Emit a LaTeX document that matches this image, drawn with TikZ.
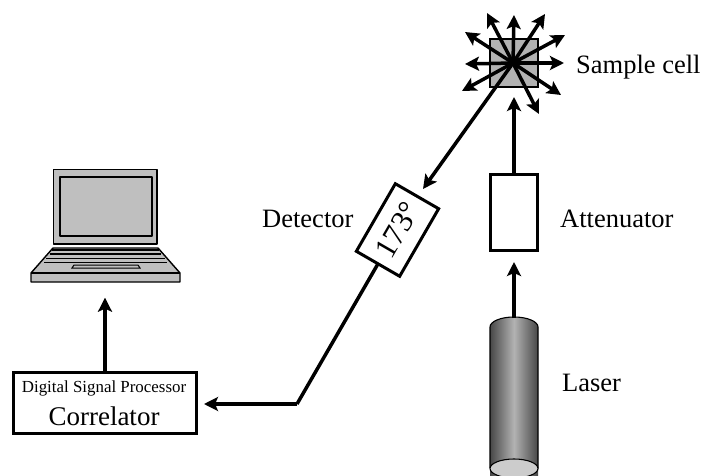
\documentclass[tikz,border=0pt]{standalone}
\usepackage{fontspec}
\setmainfont{Liberation Serif}
\usetikzlibrary{arrows.meta}
\definecolor{lapgray}{gray}{0.75}
\definecolor{cellgray}{gray}{0.7}
\tikzset{
  x=1pt,y=-1pt,
  beam/.style={line width=3.5pt,-{Stealth[length=14pt,width=14pt,inset=3pt]}},
  wire/.style={line width=3.5pt},
  boxed/.style={draw=black,line width=3pt,fill=white,inner sep=0pt,outer sep=0pt},
  lab/.style={font=\fontsize{26.5}{28}\selectfont,inner sep=0pt,anchor=base west},
  lapline/.style={draw=black,line width=1.4pt,line join=round}
}
\begin{document}
\begin{tikzpicture}
\useasboundingbox (0,0) rectangle (704,476);
% laser
\shade[left color=black!72,right color=black!72,middle color=black!30]
  (490,327) arc[start angle=180,end angle=360,x radius=24,y radius=10] -- (538,476) -- (490,476) -- cycle;
\draw[line width=1.1pt] (490,468) -- (490,327) arc[start angle=180,end angle=360,x radius=24,y radius=10] -- (538,468);
\draw[line width=1.1pt,fill=black!20] (514,468.5) ellipse[x radius=24,y radius=9.5];
\node[lab] (laser) at (562,391) {Laser};
% attenuator
\node[boxed,minimum width=47pt,minimum height=76pt] (att) at (514,212) {};
\node[lab] (attlab) at (560,227.5) {Attenuator};
\coordinate (lasertop) at (514,318);
\draw[beam] (lasertop) -- (514,262);
% sample cell
\node[draw=black,line width=2.6pt,fill=cellgray,minimum size=48pt,inner sep=0pt,outer sep=0pt] (cell) at (514,63) {};
\node[lab] (celllab) at (576,73.5) {Sample cell};
\coordinate (c) at (513,63);
\foreach \ex/\ey in {514/15,545/14,565/35,564/63,561/95,539/114,462/91,465/64,465/32,487/13}
  \draw[beam] (c) -- (\ex,\ey);
\draw[beam] (att.north) -- (514,97);
% detector
\coordinate (bend) at (297,404);
\coordinate (corrin) at (204,404);
\node[boxed,minimum width=78pt,minimum height=50pt,rotate=60] (det) at (397.5,230)
  {\fontsize{31}{33}\selectfont 173°};
\node[lab] (detlab) at (262,227.5) {Detector};
\draw[beam] (c) -- (423,189);
% correlator
\node[draw=black,line width=3.2pt,fill=white,minimum width=183pt,minimum height=61pt,inner sep=0pt,outer sep=0pt] (corr) at (105,403) {};
\node[font=\fontsize{16.9}{18}\selectfont,inner sep=0pt,anchor=base] (dsp) at (104,392) {Digital Signal Processor};
\node[font=\fontsize{27}{29}\selectfont,inner sep=0pt,anchor=base] (corrtxt) at (104,425) {Correlator};
\draw[wire,line join=round] (det.west) -- (bend);
\draw[beam,line join=round] (bend) -- (corrin);
% laptop
\draw[lapline,fill=lapgray] (31,273) -- (53,248) -- (158,248) -- (180,273) -- (180,282) -- (31,282) -- cycle;
\draw[lapline] (31,273) -- (180,273);
\draw[lapline,fill=lapgray] (53.5,169.5) rectangle (157,244);
\draw[lapline,fill=lapgray] (60,177) rectangle (152,236);
\draw[lapline] (52,250) -- (159,250);
\draw[line width=1.2pt] (50,254) -- (161,254);
\draw[line width=1.6pt] (46,258.5) -- (165,258.5);
\draw[line width=1.2pt] (44,262.5) -- (167,262.5);
\draw[line width=1pt,fill=lapgray] (72,268) -- (74,265) -- (138,265) -- (140,268) -- cycle;
\node[inner sep=0pt,minimum size=1pt] (laptop) at (105,297) {};
\draw[beam] (corr.north) -- (laptop);
\end{tikzpicture}
\end{document}
